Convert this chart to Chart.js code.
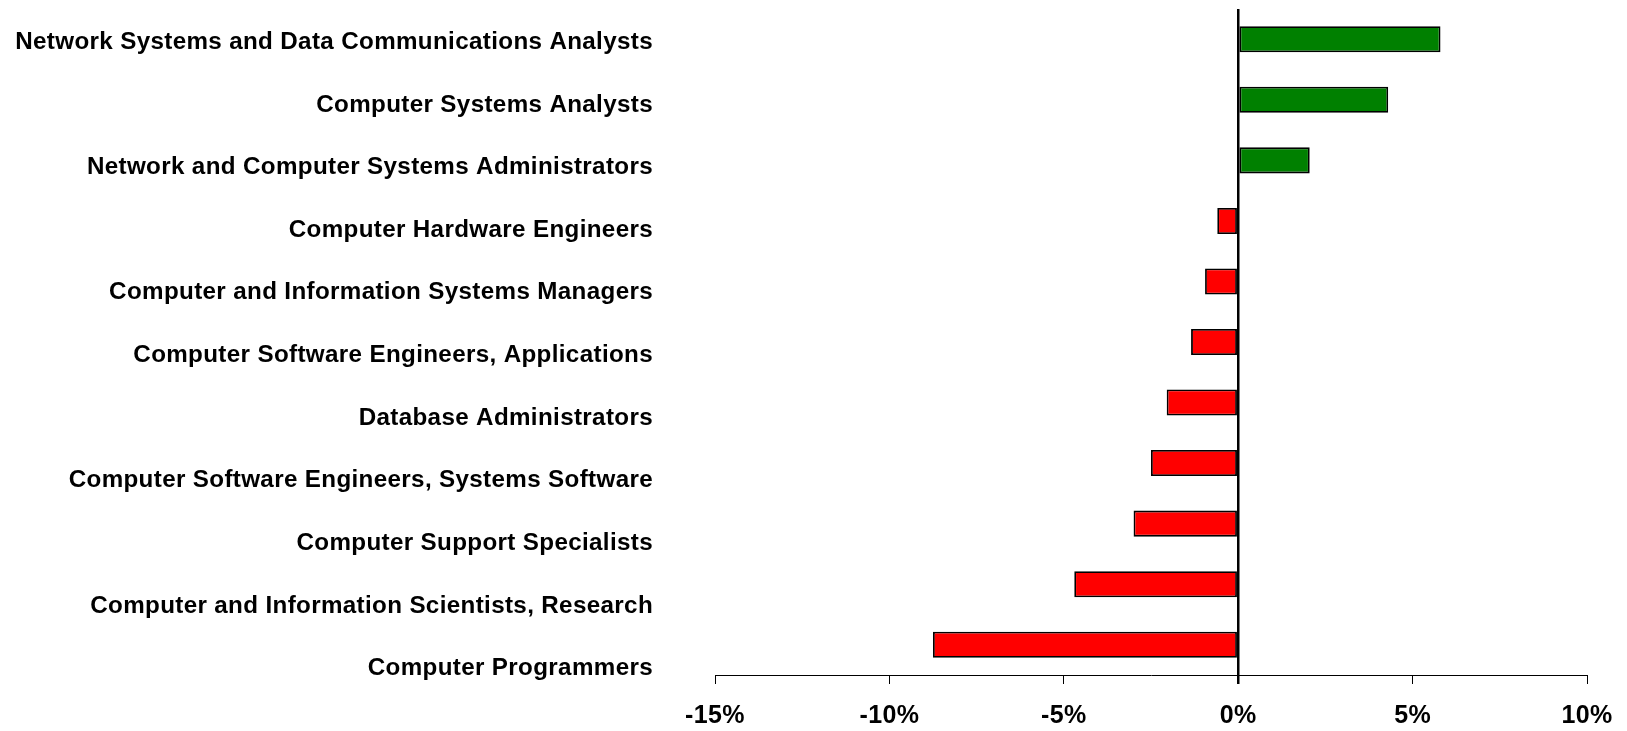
<!DOCTYPE html>
<html>
<head>
<meta charset="utf-8">
<script src="https://cdn.jsdelivr.net/npm/chart.js@4.4.1/dist/chart.umd.min.js"></script>
<style>
  html, body { margin: 0; padding: 0; background: #fff; }
  #wrap { width: 1627px; height: 731px; }
</style>
</head>
<body>
<div id="wrap"><canvas id="chart"></canvas></div>
<script>
const categories = [
  "Network Systems and Data Communications Analysts",
  "Computer Systems Analysts",
  "Network and Computer Systems Administrators",
  "Computer Hardware Engineers",
  "Computer and Information Systems Managers",
  "Computer Software Engineers, Applications",
  "Database Administrators",
  "Computer Software Engineers, Systems Software",
  "Computer Support Specialists",
  "Computer and Information Scientists, Research",
  "Computer Programmers"
];
const changes = [5.8, 4.3, 2.05, -0.6, -0.95, -1.35, -2.05, -2.5, -3.0, -4.7, -8.75];
const xTicks = [-15, -10, -5, 0, 5, 10];

const FONT = "'Liberation Sans', Arial, sans-serif";

// category labels are a touch letter-spaced, tick labels are not
const labelSpacing = {
  id: "labelSpacing",
  beforeDraw(chart) { chart.ctx.letterSpacing = "0.35px"; },
  afterDatasetsDraw(chart) { chart.ctx.letterSpacing = "0px"; }
};

new Chart(document.getElementById("chart"), {
  type: "bar",
  data: {
    labels: categories,
    datasets: [{
      data: changes,
      backgroundColor: changes.map(v => v >= 0 ? "#008000" : "#ff0000"),
      borderColor: "#000",
      borderWidth: 1.8,
      borderSkipped: false,
      categoryPercentage: 1,
      barPercentage: 0.43,
      yAxisID: "y"
    }]
  },
  options: {
    indexAxis: "y",
    responsive: true,
    maintainAspectRatio: false,
    animation: false,
    layout: { padding: { top: 9, right: 40, bottom: 0, left: 0 } },
    plugins: { legend: { display: false }, tooltip: { enabled: false } },
    scales: {
      x: {
        type: "linear",
        min: -15,
        max: 10,
        z: 1,
        afterBuildTicks: (axis) => { axis.ticks = xTicks.map(v => ({ value: v })); },
        afterFit: (axis) => { axis.height = 56; axis.paddingLeft = 0; axis.paddingRight = 0; },
        border: { display: true, color: "#000", width: 1 },
        grid: {
          drawOnChartArea: true,
          drawTicks: true,
          tickLength: 9,
          color: (ctx) => ctx.tick && ctx.tick.value === 0 ? "#000" : "rgba(0,0,0,0)",
          lineWidth: (ctx) => ctx.tick && ctx.tick.value === 0 ? 2.5 : 1,
          tickColor: "#000",
          tickWidth: (ctx) => ctx.tick && ctx.tick.value === 0 ? 2.5 : 1
        },
        ticks: {
          padding: 17,
          color: "#000",
          font: { family: FONT, size: 25, weight: "bold" },
          callback: (v) => v + "%"
        }
      },
      y: {
        type: "category",
        display: false
      },
      // labels on their own spacing, slightly looser than the bars
      yl: {
        type: "linear",
        position: "left",
        reverse: true,
        offset: false,
        min: -0.53,
        max: 10.1,
        afterBuildTicks: (axis) => { axis.ticks = categories.map((c, i) => ({ value: i })); },
        afterFit: (axis) => { axis.width = 715; axis.paddingTop = 0; axis.paddingBottom = 0; },
        border: { display: false },
        grid: { display: false, drawTicks: false, offset: false },
        ticks: {
          padding: 62,
          color: "#000",
          font: { family: FONT, size: 24.2, weight: "bold" },
          callback: (v) => categories[v]
        }
      }
    }
  },
  plugins: [labelSpacing]
});
</script>
</body>
</html>
